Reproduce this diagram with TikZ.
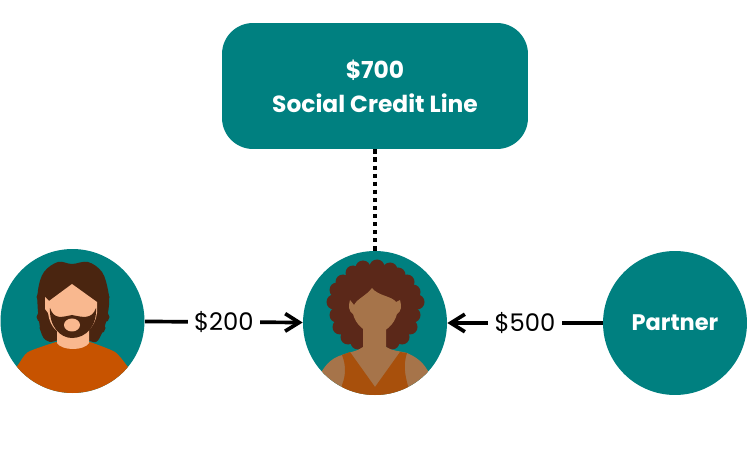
\documentclass[tikz,border=0pt]{standalone}
\usepackage{fontspec}
\setmainfont{Poppins}
\usepackage{xcolor}
\usetikzlibrary{arrows.meta,positioning}
\definecolor{tealfill}{HTML}{008080}
\definecolor{manhair}{HTML}{4A2510}
\definecolor{manskin}{HTML}{F9B88F}
\definecolor{manshirt}{HTML}{C75300}
\definecolor{womanhair}{HTML}{5B2819}
\definecolor{womanskin}{HTML}{A6744A}
\definecolor{womantop}{HTML}{A8500C}
\tikzset{
  person/.style={circle, fill=tealfill, minimum size=2.88cm, inner sep=0pt},
  creditbox/.style={rectangle, fill=tealfill, rounded corners=0.62cm, minimum width=6.12cm, minimum height=2.52cm, align=center, text=white, font=\fontsize{13.3}{19.4}\selectfont\bfseries},
  amount/.style={fill=white, inner sep=3.5pt, font=\fontsize{13.8}{18}\selectfont},
  flow/.style={line width=2.1pt, black, -{Straight Barb[length=8pt, width=10pt, line width=2.1pt]}},
}
\begin{document}
\begin{tikzpicture}[x=0.02cm, y=-0.02cm]
\useasboundingbox (0,0) rectangle (750,469);

% --- Box and circles ---
\node[creditbox] (credit) at (375,86) {\$700\\Social Credit Line};
\node[person] (man) at (72.5,321) {};
\node[person] (woman) at (375,323) {};
\node[person, text=white, font=\fontsize{12.8}{15}\selectfont\bfseries] (partner) at (675,323) {Partner};

% --- Connectors ---
\draw[line width=2.3pt, dash pattern=on 2.4pt off 2.2pt] (credit) -- (woman);
\draw[flow] (man) -- node[amount] (left) {\$200} (woman);
\draw[flow] (partner) -- node[amount] (right) {\$500} (woman);

% --- Man (left) ---
\begin{scope}
  \clip (72.5,321) circle (72);
  \fill[manhair] plot[smooth cycle, tension=0.6] coordinates {(72,264) (58,262) (44,272) (38,290) (38,312) (42,335) (50,342) (60,340) (85,340) (96,342) (102,333) (106,322) (109,305) (108,290) (102,272) (88,262)};
  % Hair lumps
  \foreach \hx/\hy in {42/297, 42/317, 45/328, 52/336, 104/297, 104/317, 100/328, 93/336}
    \fill[manhair] (\hx,\hy) circle (5.5);
  % Shirt
  \fill[manshirt] plot[smooth, tension=0.4] coordinates {(10,375) (18,365) (28,352) (56,342)} -- (72,349) -- plot[smooth, tension=0.4] coordinates {(90,342) (115,352) (128,367) (135,375)} -- (135,400) -- (10,400) -- cycle;
  % Neck
  \fill[manskin] (57,330) -- (89,330) -- (89,343) .. controls (84,351) and (62,351) .. (57,343) -- cycle;
  % Face
  \fill[manskin] (72,284) -- (97,302) -- (97,313) .. controls (95,328) and (85,336) .. (72,336) .. controls (59,336) and (50,328) .. (48,313) -- (45,309) -- (45,297) -- (49,301) -- cycle;
  % Beard
  \fill[manhair] (50,308) .. controls (54,320) and (62,317) .. (72,315) .. controls (82,317) and (92,320) .. (96,308) .. controls (97,326) and (86,338) .. (72,338) .. controls (60,338) and (49,326) .. (50,308) -- cycle;
  \fill[manskin] (72,325) ellipse [x radius=8, y radius=6.5];
\end{scope}

% --- Woman (middle) ---
\begin{scope}
  \clip (375,323) circle (72);
  % Hair
  \fill[womanhair] (375,303) ellipse [x radius=40, y radius=36];
  \fill[womanhair] (345,305) rectangle (405,342);
  \foreach \hx/\hy in {363/268, 377/267, 390/270, 398/275, 407/282, 413/292, 417/302, 413/315, 410/327, 402/337, 392/342, 353/273, 343/282, 337/290, 334/302, 337/315, 340/327, 348/337, 358/342}
    \fill[womanhair] (\hx,\hy) circle (7.5);
  % Shoulders and neck
  \fill[womanskin] (320,375) .. controls (326,362) and (335,357) .. (342,355) .. controls (350,352) and (358,351) .. (363,347) -- (363,325) -- (386,325) -- (386,347) .. controls (392,351) and (400,351) .. (407,353) .. controls (416,357) and (424,362) .. (430,375) -- (430,400) -- (320,400) -- cycle;
  % Top
  \fill[womantop] (342,355) -- (350,352) -- (375,387) -- (400,352) -- (407,353) .. controls (403,365) and (405,375) .. (408,386) -- (408,400) -- (342,400) -- (342,385) .. controls (346,375) and (346,365) .. (342,355) -- cycle;
  % Face
  \fill[womanskin] (372,288) .. controls (378,296) and (392,296) .. (396,302) -- (400,300) .. controls (402,306) and (401,312) .. (397,314) .. controls (394,325) and (385,333) .. (375,333) .. controls (365,333) and (356,325) .. (353,314) .. controls (349,312) and (348,306) .. (350,300) -- (354,305) .. controls (358,298) and (366,296) .. (372,288) -- cycle;
\end{scope}
\end{tikzpicture}
\end{document}
